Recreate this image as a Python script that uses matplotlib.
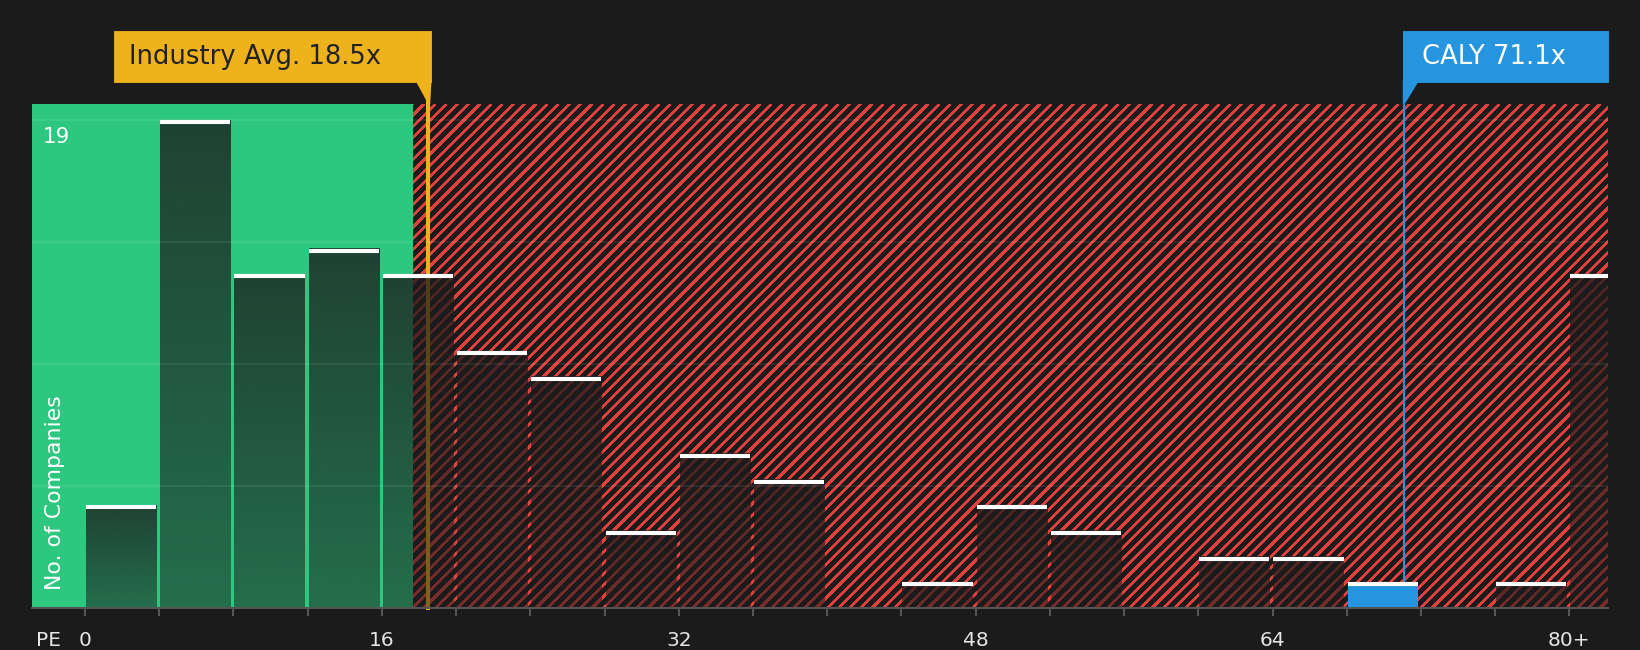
import numpy as np
import matplotlib
matplotlib.use("Agg")
import matplotlib.pyplot as plt
from matplotlib.patches import Rectangle, Polygon
from matplotlib.collections import LineCollection
from matplotlib.transforms import blended_transform_factory

# data
bin_starts = list(range(0, 84, 4))
counts = [4, 19, 13, 14, 13, 10, 9, 3, 6, 5, 0, 1, 4, 3, 0, 2, 2, 1, 0, 1, 13]
tick_vals = [0, 16, 32, 48, 64, 80]
tick_text = ["0", "16", "32", "48", "64", "80+"]
industry_avg = 18.5
company = "CALY"
company_pe = 71.1
fair_limit = 17.7
y_max = 19

BG = "#1b1b1b"
GREEN = "#2dc77f"
RED = "#e2403d"
YELLOW = "#eeb21c"
BLUE = "#2595e0"

DPI = 134
fig = plt.figure(figsize=(1640 / DPI, 650 / DPI), dpi=DPI, facecolor=BG)
ax = fig.add_axes([32 / 1640, 42 / 650, 1576 / 1640, 504 / 650])
ax.set_facecolor(BG)

x_lo, x_hi = -2.86, 82.08

# diagonal stripes (45 deg in pixels, ~11 px apart); green zone is drawn over them
w_px, h_px = 1576, 504
starts = np.arange(-h_px, w_px, 11.2)
segs = [[(s / w_px, 0), ((s + h_px) / w_px, 1)] for s in starts]
stripes = LineCollection(segs, colors=RED, linewidths=0.9, transform=ax.transAxes,
                         antialiaseds=False, zorder=0.5)
ax.add_collection(stripes)
ax.axvspan(x_lo, fair_limit, color=GREEN, lw=0, zorder=1)

mixed = blended_transform_factory(ax.transData, ax.transAxes)

# marker lines
ax.plot([industry_avg, industry_avg], [0, 1.044], color=YELLOW, lw=2.2,
        transform=mixed, clip_on=False, zorder=2)
ax.plot([company_pe, company_pe], [0, 1.044], color=BLUE, lw=1.1,
        transform=mixed, clip_on=False, zorder=2)

# bars with a vertical fade
n = 256
grad = np.zeros((n, 1, 4))
grad[:, 0, :3] = 28 / 255
grad[:, 0, 3] = np.linspace(0.78, 0.52, n)
for start, c in zip(bin_starts, counts):
    if c == 0:
        continue
    x0, x1 = start + 0.05, start + 3.83
    if start <= company_pe < start + 4:
        ax.add_patch(Rectangle((x0, 0), x1 - x0, c, color=BLUE, lw=0, zorder=3))
    else:
        ax.imshow(grad, extent=(x0, x1, 0, c), aspect="auto", origin="upper",
                  interpolation="bilinear", zorder=3)
    ax.plot([x0, x1], [c - 0.08, c - 0.08], color="white", lw=2.2,
            solid_capstyle="butt", zorder=5)

ax.set_xlim(x_lo, x_hi)
ax.set_ylim(0, y_max * 1.033)

# grid
for g in np.linspace(0, y_max, 5)[1:]:
    ax.axhline(g, color="white", alpha=0.08, lw=1.0, zorder=4)

# axes styling
for s in ["top", "right", "left"]:
    ax.spines[s].set_visible(False)
ax.spines["bottom"].set_color("#555555")
ax.spines["bottom"].set_linewidth(1.1)
ax.spines["bottom"].set_zorder(6)
ax.set_yticks([])
ax.set_xticks(bin_starts)
ax.set_xticklabels([tick_text[tick_vals.index(v)] if v in tick_vals else "" for v in bin_starts])
ax.tick_params(axis="x", colors="#555555", length=4.3, width=1.1, pad=8,
               labelcolor="#e6e6e6", labelsize=10.8)

ax.text(0.0102, -0.065, "PE", transform=ax.transAxes, color="#e6e6e6",
        fontsize=10.8, ha="center", va="center")
ax.text(0.0146, 0.036, "No. of Companies", transform=ax.transAxes, rotation=90,
        color="white", fontsize=11.8, ha="center", va="bottom", zorder=7)
ax.text(0.007, y_max - 0.25, str(y_max),
        transform=blended_transform_factory(ax.transAxes, ax.transData),
        color="white", fontsize=11.5, ha="left", va="top", zorder=7)

# callout boxes
yb, yt = 1.044, 1.143
ax.add_patch(Rectangle((industry_avg - 16.9, yb), 17.02, yt - yb, color=YELLOW,
                       transform=mixed, clip_on=False, zorder=8))
ax.add_patch(Polygon([(industry_avg - 0.6, yb), (industry_avg + 0.12, yb),
                      (industry_avg + 0.05, 1.0)], closed=True, color=YELLOW,
                     transform=mixed, clip_on=False, zorder=8))
ax.text(industry_avg - 16.15, (yb + yt) / 2, f"Industry Avg. {industry_avg}x",
        transform=mixed, color="#222222", fontsize=13.9, ha="left", va="center",
        zorder=9)

ax.add_patch(Rectangle((company_pe - 0.03, yb), x_hi - company_pe + 0.03, yt - yb,
                       color=BLUE, transform=mixed, clip_on=False, zorder=8))
ax.add_patch(Polygon([(company_pe - 0.03, yb), (company_pe + 0.7, yb),
                      (company_pe - 0.03, 1.0)], closed=True, color=BLUE,
                     transform=mixed, clip_on=False, zorder=8))
ax.text(company_pe + 0.97, (yb + yt) / 2, f"{company} {company_pe}x",
        transform=mixed, color="white", fontsize=13.9, ha="left", va="center",
        zorder=9)

fig.savefig("out.png", dpi=DPI, facecolor=BG)
